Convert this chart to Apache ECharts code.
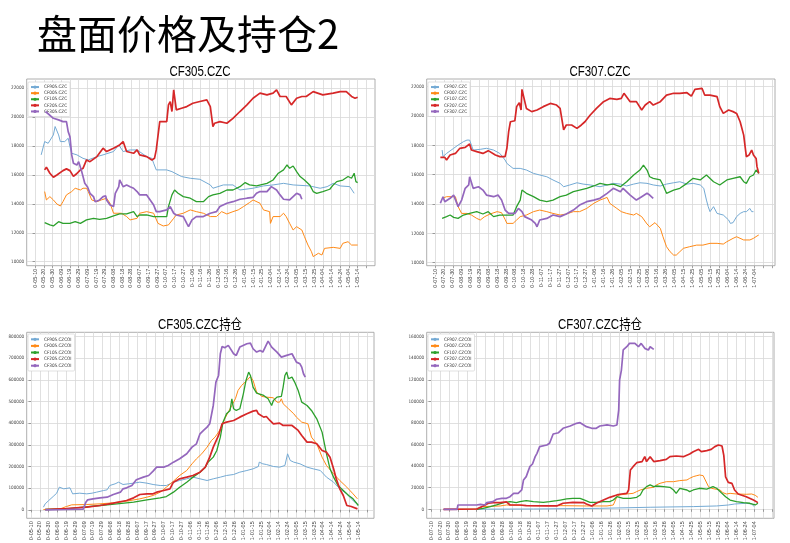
<!DOCTYPE html>
<html><head><meta charset="utf-8">
<script src="https://cdn.jsdelivr.net/npm/echarts@6/dist/echarts.min.js"></script>
<style>html,body{margin:0;padding:0;background:#fff}#c{width:790px;height:543px}</style>
</head><body><div id="c"></div>
<script>
// ---------- tick labels ----------
const xTicks305 = ['0-05-10','0-05-20','0-05-30','0-06-09','0-06-19','0-06-29','0-07-09','0-07-19','0-07-29','0-08-08','0-08-18','0-08-28','0-09-07','0-09-17','0-09-27','0-10-07','0-10-17','0-10-27','0-11-06','0-11-16','0-11-26','0-12-06','0-12-16','0-12-26','1-01-05','1-01-15','1-01-25','1-02-04','1-02-14','1-02-24','1-03-05','1-03-15','1-03-25','1-04-04','1-04-14','1-04-24','1-05-04','1-05-14'];
const xTicks307 = ['0-07-10','0-07-20','0-07-30','0-08-09','0-08-19','0-08-29','0-09-08','0-09-18','0-09-28','0-10-08','0-10-18','0-10-28','0-11-07','0-11-17','0-11-27','0-12-07','0-12-17','0-12-27','1-01-06','1-01-16','1-01-26','1-02-05','1-02-15','1-02-25','1-03-06','1-03-16','1-03-26','1-04-05','1-04-15','1-04-25','1-05-05','1-05-15','1-05-25','1-06-04','1-06-14','1-06-24','1-07-04'];
const yTicksPrice = [10000,12000,14000,16000,18000,20000,22000];
const yTicksOI305 = [0,100000,200000,300000,400000,500000,600000,700000,800000];
const yTicksOI307 = [0,20000,40000,60000,80000,100000,120000,140000,160000];

// ---------- series names ----------
const names305 = ['CF905.CZC','CF005.CZC','CF105.CZC','CF205.CZC','CF305.CZC'];
const names307 = ['CF907.CZC','CF007.CZC','CF107.CZC','CF207.CZC','CF307.CZC'];
const namesOI305 = ['CF905.CZCOI','CF005.CZCOI','CF105.CZCOI','CF205.CZCOI','CF305.CZCOI'];
const namesOI307 = ['CF907.CZCOI','CF007.CZCOI','CF107.CZCOI','CF207.CZCOI','CF307.CZCOI'];

// ---------- data: [days after first tick label, value] ----------
// CF305.CZC price panel
const p905 = [[7,17390],[11,18310],[15,18190],[21,18770],[23,19350],[27,18770],[29,18310],[34,18310],[38,18540],[40,17960],[42,17500],[48,17390],[55,17150],[61,17040],[71,17270],[78,17390],[90,17620],[96,18080],[101,17620],[109,17730],[117,17730],[128,17270],[134,17150],[136,16810],[139,16350],[151,16350],[157,16230],[168,15890],[178,15770],[189,15700],[201,15310],[204,15080],[216,15310],[227,15310],[235,14960],[250,15080],[262,15240],[273,15310],[285,15420],[296,15310],[315,15240],[327,15080],[335,15190],[342,15420],[350,15240],[361,15190],[366,14730]];
const p005 = [[11,14850],[13,14270],[17,14500],[21,14270],[25,13990],[29,13850],[32,14150],[36,14620],[42,14850],[46,15080],[52,14960],[55,15080],[59,15080],[61,14850],[65,14270],[71,14150],[76,14270],[82,14390],[86,14040],[90,13350],[99,13350],[105,13120],[109,12890],[117,13000],[120,13350],[128,13460],[136,13350],[141,12650],[147,12470],[153,12540],[159,13000],[162,13230],[170,13350],[178,13580],[185,13460],[193,13350],[201,13120],[208,13120],[214,13460],[220,13300],[227,13460],[233,13580],[239,13810],[246,14090],[250,14270],[258,14040],[262,13580],[269,13460],[270,12650],[273,13120],[281,13120],[285,13350],[288,13120],[292,12650],[296,12190],[300,12420],[306,12190],[309,11730],[313,11150],[317,10690],[319,10350],[325,10580],[329,10460],[332,10920],[342,10990],[350,10920],[353,11270],[359,11380],[363,11150],[370,11150]];
const p105 = [[11,12700],[17,12540],[21,12470],[27,12770],[32,12650],[40,12650],[46,12770],[52,12650],[59,12890],[67,13000],[74,12930],[82,13000],[90,13160],[97,13300],[105,13300],[113,13460],[117,13120],[120,13230],[128,13230],[136,13120],[151,13120],[153,13810],[157,14620],[160,14960],[164,14730],[170,14500],[178,14390],[185,14150],[193,14150],[199,14500],[204,14620],[212,14730],[220,14960],[227,14960],[235,15190],[241,15470],[246,15310],[254,15240],[266,15420],[273,15650],[279,16120],[285,16350],[289,16690],[292,16460],[296,16620],[300,16230],[304,15890],[309,15650],[315,15310],[319,14850],[323,14730],[330,14850],[338,15010],[342,15310],[346,15540],[353,15650],[359,15890],[363,15770],[366,16120],[368,15540],[370,15470]];
const p205 = [[11,16350],[13,16530],[17,16120],[21,15840],[25,16000],[32,16300],[36,16420],[40,16300],[44,15900],[48,16100],[52,16350],[55,16460],[59,17040],[63,16920],[71,17270],[78,17850],[82,17620],[90,17850],[97,18080],[101,18310],[105,17620],[113,17500],[117,17730],[120,17390],[128,17270],[134,17040],[137,17150],[139,17730],[143,19690],[151,19690],[153,20850],[155,21080],[157,20390],[159,21890],[160,21890],[162,20500],[168,20620],[174,20730],[181,20960],[189,21080],[197,21190],[201,20730],[204,19350],[206,19580],[212,19690],[220,19580],[227,19920],[235,20390],[243,20850],[250,21310],[258,21660],[266,21540],[273,21660],[277,21890],[281,21430],[288,21430],[294,20850],[300,21310],[306,21430],[311,21430],[319,21770],[330,21540],[342,21660],[350,21770],[357,21770],[363,21430],[367,21310],[370,21380]];
const p305 = [[12,20390],[21,19920],[27,19810],[32,19690],[36,19690],[38,19000],[40,18650],[42,17390],[44,16810],[48,16690],[50,16920],[52,17040],[53,16350],[57,15420],[60,15190],[63,14730],[67,14500],[69,14150],[71,14040],[74,14270],[78,14500],[81,14550],[82,14270],[86,13920],[90,13810],[92,14730],[96,15190],[97,15660],[101,15190],[105,15310],[109,15190],[113,15080],[117,14850],[120,14620],[128,14620],[132,14270],[136,13920],[139,13460],[143,13460],[151,13580],[155,13810],[159,13350],[162,13230],[170,13120],[174,12650],[176,12420],[180,12890],[185,13120],[193,13120],[201,13350],[208,13460],[212,13810],[220,14040],[227,14150],[235,14320],[243,14390],[250,14450],[254,14730],[258,14850],[266,14850],[271,15190],[277,14960],[281,14620],[285,14320],[292,14270],[296,14500],[300,14730],[304,14620],[306,14320]];

// CF307.CZC price panel
const q907 = [[8,17680],[9,17230],[13,17450],[21,17800],[26,18020],[32,18250],[36,18360],[39,18360],[41,18020],[43,17680],[51,17730],[58,17800],[66,17680],[73,17450],[79,17000],[81,16770],[88,16430],[96,16430],[103,16320],[111,16090],[118,15980],[126,15860],[133,15640],[141,15410],[145,15180],[152,15300],[160,15450],[167,15360],[175,15300],[186,15180],[194,15300],[201,15410],[209,15360],[216,15230],[224,15360],[231,15450],[239,15410],[246,15300],[254,15230],[261,15360],[269,15450],[276,15520],[284,15360],[291,15410],[299,15300],[303,15070],[306,14270],[308,13820],[310,13480],[314,13820],[318,13360],[325,13250],[331,12910],[333,12680],[336,12730],[340,13140],[344,13360],[348,13480],[351,13480],[355,13700],[357,13480],[359,13480]];
const q007 = [[8,14390],[13,14500],[19,14500],[23,14500],[26,13820],[30,13360],[36,13360],[41,13250],[47,13020],[51,12910],[56,13140],[62,13320],[70,13480],[75,13410],[79,12950],[81,12680],[88,12680],[92,12910],[96,13140],[103,13250],[111,13480],[118,13590],[126,13480],[133,13360],[141,13250],[148,13320],[156,13480],[163,13480],[171,13700],[179,14050],[186,14270],[194,14450],[197,14050],[205,13700],[210,13480],[216,13360],[224,13250],[227,13360],[233,13140],[239,12640],[242,12450],[248,12730],[254,12340],[257,11770],[261,11090],[265,10750],[269,10520],[272,10520],[276,10750],[280,10980],[287,11090],[295,11200],[302,11200],[310,11320],[318,11320],[325,11270],[329,11430],[336,11660],[340,11770],[348,11550],[355,11550],[359,11660],[363,11820],[365,11890]];
const q107 = [[8,13020],[13,13140],[17,13250],[21,13090],[26,13020],[32,13250],[39,13360],[47,13480],[54,13320],[60,13480],[66,13140],[73,13250],[81,13250],[88,13250],[92,13820],[96,14270],[98,14950],[103,14730],[111,14500],[118,14270],[126,14160],[133,14270],[141,14500],[148,14610],[156,14840],[163,14950],[171,15070],[179,15230],[186,15410],[194,15300],[201,15360],[209,15180],[216,15520],[224,15980],[231,16320],[235,16660],[239,16320],[242,15860],[246,15750],[254,15640],[257,15300],[261,14730],[269,14950],[276,15070],[284,15410],[291,15750],[299,15640],[306,15980],[314,15520],[321,15300],[329,15640],[336,15750],[344,15860],[348,15520],[351,15410],[355,15860],[359,15980],[362,16320],[365,16090]];
const q207 = [[6,17180],[11,17180],[13,17000],[17,17340],[23,17450],[28,17800],[34,17860],[39,18090],[41,17680],[47,17570],[54,17450],[60,17640],[68,17340],[73,17230],[79,17230],[81,17800],[83,18930],[85,19610],[90,19680],[92,20640],[95,20910],[97,20410],[98,21820],[100,21820],[103,20520],[109,20300],[115,20410],[122,20640],[130,20860],[137,20750],[141,20520],[145,19050],[148,19390],[154,19390],[160,19160],[165,19390],[169,19610],[175,20070],[182,20520],[190,20980],[197,21200],[205,21140],[210,21200],[213,21550],[220,20980],[227,20980],[233,20410],[237,20750],[242,20980],[246,20750],[254,20980],[261,21430],[269,21550],[276,21550],[284,21590],[289,21360],[293,21820],[301,21890],[304,21430],[310,21430],[318,21320],[321,20640],[325,20180],[331,20410],[336,20300],[340,20180],[344,19610],[348,18700],[351,17230],[354,17340],[357,17680],[359,17340],[362,17110],[363,16550],[365,16090]];
const q307 = [[6,14050],[9,14500],[11,14160],[17,14390],[21,14610],[26,13820],[30,14270],[34,15070],[38,15300],[39,15860],[43,15070],[49,15180],[54,14950],[58,14610],[66,14500],[71,14610],[75,14270],[79,13590],[83,13360],[90,13360],[94,13700],[98,13480],[101,13140],[109,12910],[113,12680],[115,12450],[118,12910],[126,13020],[133,13250],[141,13140],[148,13320],[156,13590],[163,13930],[171,14160],[179,14270],[186,14390],[194,14730],[201,15070],[209,14840],[212,15070],[220,14610],[227,14270],[233,14500],[239,14730],[242,14610],[246,14390]];

// CF305.CZC open interest panel
const o905 = [[14,12300],[16,27700],[20,43000],[25,61500],[29,76900],[32,104600],[33,112300],[37,96900],[44,101500],[47,73800],[55,76900],[63,73800],[69,76900],[74,81500],[82,89200],[86,92300],[89,112300],[95,120000],[99,127700],[104,116900],[110,120000],[116,123100],[123,127700],[131,123100],[138,116900],[146,112300],[153,112300],[161,127700],[168,135400],[176,143100],[183,150800],[191,143100],[199,135400],[206,143100],[214,150800],[221,158500],[229,163100],[236,173800],[244,181500],[251,189200],[257,200000],[258,220000],[262,212300],[266,209200],[274,200000],[281,196900],[287,204600],[290,258500],[293,227700],[297,220000],[304,212300],[312,196900],[319,189200],[327,181500],[334,150800],[342,127700],[349,96900],[357,73800],[362,50800],[366,35400],[369,27700]];
const o005 = [[14,1500],[33,4600],[40,15400],[46,23100],[63,24600],[78,27700],[93,32300],[108,40000],[123,50800],[131,58500],[138,66200],[146,81500],[153,104600],[161,132300],[168,158500],[176,181500],[182,212300],[187,235400],[193,258500],[199,289200],[204,320000],[208,335400],[212,358500],[216,389200],[219,420000],[223,450800],[227,481500],[231,512300],[234,550800],[238,573800],[244,596900],[248,615400],[251,596900],[255,543100],[261,523100],[266,520000],[274,516900],[278,496900],[281,496900],[283,512300],[285,489200],[291,466200],[297,443100],[300,427700],[306,404600],[313,396900],[317,335400],[323,304600],[329,243100],[334,204600],[342,166200],[349,135400],[357,104600],[364,73800],[369,50800]];
const o105 = [[16,1500],[40,4600],[59,12300],[78,20000],[97,27700],[116,35400],[131,46200],[146,55400],[153,61500],[161,81500],[168,104600],[176,127700],[183,150800],[191,173800],[197,196900],[200,220000],[206,243100],[210,273800],[214,335400],[217,404600],[221,443100],[225,458500],[227,512300],[229,466200],[232,458500],[236,466200],[240,535400],[243,596900],[246,635400],[248,620000],[251,566200],[255,538500],[263,527700],[268,512300],[272,481500],[274,504600],[278,520000],[283,523100],[285,566200],[287,620000],[289,635400],[291,604600],[295,612300],[298,589200],[302,550800],[306,496900],[312,481500],[317,458500],[323,420000],[329,358500],[334,258500],[338,189200],[342,150800],[347,112300],[353,89200],[359,66200],[364,50800],[370,20000]];
const o205 = [[16,1500],[40,6200],[63,12300],[78,20000],[93,30800],[108,43100],[116,55400],[123,70800],[131,73800],[138,73800],[142,81500],[150,89200],[157,96900],[161,127700],[168,143100],[176,150800],[183,158500],[191,173800],[197,196900],[202,243100],[206,289200],[212,343100],[216,396900],[221,404600],[229,412300],[236,427700],[244,443100],[251,455400],[255,458500],[257,443100],[263,427700],[266,430800],[270,412300],[274,396900],[281,400000],[285,389200],[295,389200],[297,396900],[302,366200],[306,343100],[312,312300],[317,312300],[323,304600],[329,273800],[334,266200],[338,243100],[342,189200],[345,143100],[349,96900],[353,66200],[357,20000],[362,15400],[369,4600]];
const o305 = [[16,0],[40,1500],[59,3100],[62,35400],[64,46200],[70,50800],[78,55400],[86,58500],[93,70800],[101,81500],[104,96900],[108,101500],[114,112300],[119,138500],[127,150800],[133,158500],[138,178500],[142,196900],[150,196900],[155,204600],[161,220000],[168,235400],[176,258500],[182,289200],[187,304600],[191,350800],[195,366200],[199,381500],[202,396900],[206,481500],[209,589200],[212,620000],[214,720000],[216,753800],[219,747700],[223,758500],[229,720000],[232,712300],[236,750800],[244,766200],[248,769200],[251,743100],[255,727700],[259,735400],[262,727700],[268,778500],[272,750800],[278,727700],[283,704600],[289,712300],[295,720000],[297,712300],[300,681500],[304,673800],[306,658500],[308,627700],[310,612300]];

// CF307.CZC open interest panel
const r907 = [[14,0],[114,300],[188,900],[244,1900],[292,2500],[318,3100],[331,4000],[338,4900],[340,5600],[351,5600],[357,4900],[360,2500]];
const r007 = [[14,0],[51,300],[58,2500],[77,3100],[84,4000],[114,3400],[144,3400],[173,3100],[196,3100],[203,4000],[207,11700],[210,13300],[218,14200],[225,14800],[229,16400],[233,17900],[240,19500],[248,20400],[251,22600],[255,24100],[262,25600],[270,25600],[277,26600],[285,27200],[288,28700],[292,30300],[296,31200],[299,31800],[303,31200],[305,32700],[309,21000],[312,19500],[318,18500],[322,17900],[325,15400],[329,14200],[333,14800],[340,14200],[351,13900],[357,14200],[361,13000],[364,11100]];
const r107 = [[51,0],[58,900],[66,2500],[73,4000],[81,6200],[88,7100],[95,6200],[99,7100],[106,8000],[114,7100],[125,6500],[132,7100],[140,8000],[144,8600],[151,9600],[158,10200],[166,10200],[171,8600],[177,6500],[184,6500],[192,7100],[199,7100],[203,8600],[207,11700],[209,10200],[214,10200],[222,10200],[229,11100],[233,13300],[236,17900],[240,21000],[244,22600],[248,21000],[251,21600],[259,21000],[266,20400],[270,17900],[273,14800],[277,19500],[285,17900],[288,16400],[292,17900],[299,19500],[307,18800],[314,21000],[318,19500],[323,15500],[328,11700],[333,8600],[340,7100],[348,6200],[355,5600],[361,4000],[364,5600]];
const r207 = [[14,0],[51,300],[58,3100],[64,5600],[69,6200],[77,6200],[84,6800],[88,4000],[99,4000],[106,3400],[129,3100],[140,3100],[147,5600],[158,6500],[170,6200],[173,4900],[179,3100],[184,5600],[192,8600],[199,11100],[207,13300],[212,14200],[218,14800],[220,17900],[222,36500],[225,39500],[229,43200],[235,44200],[238,48800],[240,44200],[244,48800],[248,44200],[255,45100],[262,46300],[266,48800],[273,49400],[281,48800],[288,51300],[292,53400],[298,55600],[301,53400],[307,54400],[312,55600],[316,58100],[320,59600],[322,60500],[324,58700],[326,50000],[328,30000],[331,25000],[335,24100],[338,17900],[342,14200],[351,11700],[359,8600],[364,6200]];
const r307 = [[14,0],[29,0],[30,4000],[51,4000],[55,4600],[60,4000],[62,6200],[69,7100],[73,9300],[79,10200],[84,10200],[88,11700],[92,14800],[97,14800],[101,17900],[103,27200],[106,30300],[108,34900],[110,39500],[113,42000],[116,48800],[118,51900],[121,58100],[129,59600],[132,61200],[134,62700],[136,69800],[142,71000],[147,75100],[155,77200],[162,79700],[166,80300],[170,78200],[173,76600],[179,75100],[184,75100],[188,77200],[196,78200],[203,77200],[207,78200],[209,92100],[210,119900],[212,129100],[214,147700],[218,150700],[221,153800],[223,155400],[227,153800],[231,150700],[234,153800],[238,149200],[242,147700],[244,150700],[248,148300]];

// ---------- layout / styles ----------
const NARROW = '"Liberation Sans Narrow","DejaVu Sans Condensed","Liberation Sans",sans-serif';
const colors = ['#74aad4','#ff8a17','#2ca02c','#d62728','#9467bd'];
const widths = [1, 1, 1.3, 1.7, 1.7];

const panels = [
  {title:'CF305.CZC', tx:200, ty:72, grid:{left:26.7, top:79, width:348.3, height:186.7}, x:[-9.6,389.9], y:[9720,22640], labels:xTicks305, yt:yTicksPrice, names:names305, data:[p905,p005,p105,p205,p305], lg:{left:28, top:82}, lh:6.1},
  {title:'CF307.CZC', tx:600, ty:72, grid:{left:426.7, top:79, width:348.3, height:186.7}, x:[-9.4,383.3], y:[9795,22525], labels:xTicks307, yt:yTicksPrice, names:names307, data:[q907,q007,q107,q207,q307], lg:{left:428, top:82}, lh:6.1},
  {title:'CF305.CZC持仓', tx:200, ty:325, grid:{left:26.7, top:332.3, width:347.3, height:186}, x:[-4.9,387.7], y:[-39000,819000], labels:xTicks305, yt:yTicksOI305, names:namesOI305, data:[o905,o005,o105,o205,o305], lg:{left:28, top:334}, lh:6.6},
  {title:'CF307.CZC持仓', tx:600, ty:325, grid:{left:426.7, top:332.3, width:347.3, height:186}, x:[-4.8,381.9], y:[-8340,164080], labels:xTicks307, yt:yTicksOI307, names:namesOI307, data:[r907,r007,r107,r207,r307], lg:{left:428, top:334}, lh:6.6}
];

const grids = [], xAxes = [], yAxes = [], legends = [], series = [];
const graphics = [{type:'text', left:37, top:14, style:{text:'盘面价格及持仓2', font:'40px "Noto Sans CJK SC", sans-serif', fill:'#000'}}];

panels.forEach((p, i) => {
  grids.push(Object.assign({show:true, borderColor:'#9a9a9a', borderWidth:0.8, backgroundColor:'transparent', containLabel:false, outerBoundsMode:'none'}, p.grid));
  const xt = p.labels.map((_, k) => k * 10);
  for (let v = xt.length * 10; v <= p.x[1]; v += 10) xt.push(v);
  xAxes.push({
    type:'value', gridIndex:i, min:p.x[0], max:p.x[1],
    axisLine:{show:false},
    axisTick:{show:true, length:2.5, customValues:xt, lineStyle:{color:'#666', width:0.6}},
    axisLabel:{customValues:xt, rotate:90, fontSize:5.5, margin:3, color:'#444', fontFamily:'"Liberation Sans",sans-serif',
      formatter: v => { const k = Math.round(v / 10); return (k >= 0 && k < p.labels.length) ? p.labels[k] : ''; }},
    splitLine:{show:true, lineStyle:{color:'#d8d8d8', width:0.8}}
  });
  yAxes.push({
    type:'value', gridIndex:i, min:p.y[0], max:p.y[1],
    axisLine:{show:false},
    axisTick:{show:true, length:2.5, customValues:p.yt, lineStyle:{color:'#666', width:0.6}},
    axisLabel:{customValues:p.yt, fontSize:4.6, margin:2.5, color:'#444', fontFamily:NARROW, formatter: v => String(v)},
    splitLine:{show:true, lineStyle:{color:'#d8d8d8', width:0.8}}
  });
  legends.push({
    orient:'vertical', left:p.lg.left, top:p.lg.top, data:p.names,
    itemWidth:8, itemHeight:4, itemGap:0, padding:[2,3,2,2],
    backgroundColor:'#fff', borderColor:'#cfcfcf', borderWidth:0.6, borderRadius:1,
    textStyle:{fontSize:4.6, lineHeight:p.lh, color:'#333', fontFamily:NARROW},
    selectedMode:false
  });
  graphics.push({type:'text', x:p.tx, y:p.ty, scaleX:0.82, style:{text:p.title, align:'center', verticalAlign:'middle', font:'14px "Liberation Sans","Noto Sans CJK SC",sans-serif', fill:'#000'}});
  p.names.forEach((n, k) => {
    series.push({
      type:'line', name:n, xAxisIndex:i, yAxisIndex:i, data:p.data[k],
      symbol:'none', showSymbol:false, smooth:false,
      lineStyle:{color:colors[k], width:widths[k]}, itemStyle:{color:colors[k]},
      z: 2 + k
    });
  });
});

const chart = echarts.init(document.getElementById('c'), null, {renderer:'canvas'});
chart.setOption({
  animation:false,
  backgroundColor:'#fff',
  grid:grids, xAxis:xAxes, yAxis:yAxes, legend:legends, series:series, graphic:graphics
});
</script>
</body></html>
